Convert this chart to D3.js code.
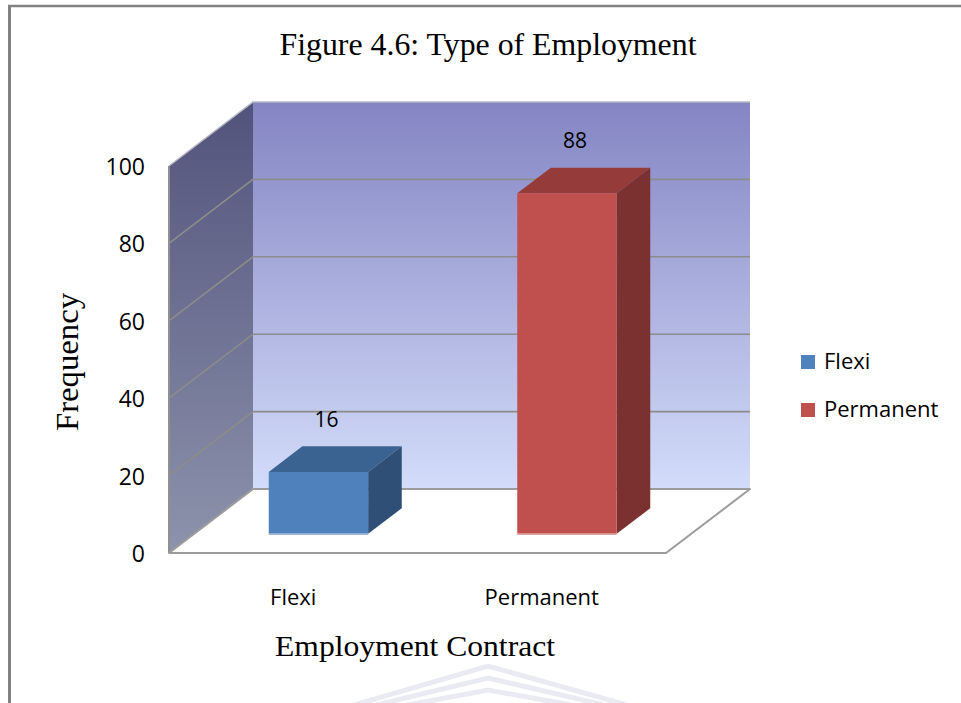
<!DOCTYPE html>
<html>
<head>
<meta charset="utf-8">
<script src="https://cdn.jsdelivr.net/npm/d3@7/dist/d3.min.js"></script>
<style>
  html, body { margin: 0; padding: 0; background: #fff; }
  svg { display: block; }
</style>
</head>
<body>
<svg id="chart" width="961" height="703"></svg>
<script>
// ---- data ----
const categories = ["Flexi", "Permanent"];
const seriesNames = ["Flexi", "Permanent"];
const frequency = [16, 88];
const yTicks = [0, 20, 40, 60, 80, 100];

const titleText = "Figure 4.6: Type of Employment";
const xTitleText = "Employment Contract";
const yTitleText = "Frequency";

// ---- styles ----
const faceColors = [
  { front: "#4f81bd", top: "#3b6391", side: "#2f4f77", edge: "#9fb9dc" },
  { front: "#c0504d", top: "#953c3a", side: "#7a3130", edge: "#e2a6a4" }
];

const svg = d3.select("#chart");
const W = 961, H = 703;

// Outer frame of the figure
svg.append("line").attr("x1", 9.5).attr("x2", 9.5).attr("y1", 5).attr("y2", H)
  .attr("stroke", "#828282").attr("stroke-width", 3);
svg.append("line").attr("x1", 8).attr("x2", W).attr("y1", 6).attr("y2", 6)
  .attr("stroke", "#828282").attr("stroke-width", 2.5);

// ---- 3D plot geometry ----
const frontLeft = 169, frontRight = 666;
const DX = 84, DY = 64;           // depth offset of the back plane
const zFront = 0.3, zBack = 0.7;  // depth range occupied by the bars

const x = d3.scaleBand().domain(categories).range([frontLeft, frontRight])
  .paddingInner(0.6).paddingOuter(0.3);
const xCat = d3.scaleBand().domain(categories).range([frontLeft, frontRight]);
const y = d3.scaleLinear().domain([0, 100]).range([553, 166]);

// project (front-plane x, value, depth) to screen
const P = (px, v, z) => [px + z * DX, y(v) - z * DY];
const poly = pts => "M" + pts.map(p => p.join(",")).join("L") + "Z";
const line = pts => "M" + pts.map(p => p.join(",")).join("L");

const defs = svg.append("defs");
const gBack = defs.append("linearGradient").attr("id", "backWall")
  .attr("x1", 0).attr("y1", 0).attr("x2", 0).attr("y2", 1);
gBack.append("stop").attr("offset", "0%").attr("stop-color", "#8485c3");
gBack.append("stop").attr("offset", "100%").attr("stop-color", "#d3dcfa");
const gSide = defs.append("linearGradient").attr("id", "sideWall")
  .attr("x1", 0).attr("y1", 0).attr("x2", 0).attr("y2", 1);
gSide.append("stop").attr("offset", "0%").attr("stop-color", "#52537c");
gSide.append("stop").attr("offset", "100%").attr("stop-color", "#8d93ac");

const plot = svg.append("g");

// back wall
plot.append("path")
  .attr("d", poly([P(frontLeft, 0, 1), P(frontRight, 0, 1), P(frontRight, 100, 1), P(frontLeft, 100, 1)]))
  .attr("fill", "url(#backWall)");
// side wall
plot.append("path")
  .attr("d", poly([P(frontLeft, 0, 0), P(frontLeft, 0, 1), P(frontLeft, 100, 1), P(frontLeft, 100, 0)]))
  .attr("fill", "url(#sideWall)");

// gridlines on back and side walls
const grid = plot.append("g").attr("stroke", "#8c8c8c").attr("stroke-width", 1.6).attr("fill", "none");
yTicks.filter(t => t > 0 && t < 100).forEach(t => {
  grid.append("path").attr("d", line([P(frontLeft, t, 0), P(frontLeft, t, 1), P(frontRight, t, 1)]));
});
// top edges of walls
plot.append("path")
  .attr("d", line([P(frontLeft, 100, 0), P(frontLeft, 100, 1), P(frontRight, 100, 1)]))
  .attr("fill", "none").attr("stroke", "#b8b8c4").attr("stroke-width", 1.5);
// left edge of side wall
plot.append("line")
  .attr("x1", frontLeft).attr("x2", frontLeft).attr("y1", y(100)).attr("y2", y(0))
  .attr("stroke", "#909090").attr("stroke-width", 2);

// floor
plot.append("path")
  .attr("d", poly([P(frontLeft, 0, 0), P(frontRight, 0, 0), P(frontRight, 0, 1), P(frontLeft, 0, 1)]))
  .attr("fill", "#ffffff").attr("stroke", "#9c9c9c").attr("stroke-width", 2).attr("stroke-linejoin", "round");

// bars
const axisFont = "'Open Sans', 'Noto Sans', sans-serif";
const bars = plot.selectAll("g.bar").data(categories).join("g").attr("class", "bar");
bars.each(function (c, i) {
  const g = d3.select(this);
  const v = frequency[i];
  const x0 = x(c), x1 = x(c) + x.bandwidth();
  const col = faceColors[i];
  g.append("path").attr("d", poly([P(x0, v, zFront), P(x1, v, zFront), P(x1, v, zBack), P(x0, v, zBack)]))
    .attr("fill", col.top);
  g.append("path").attr("d", poly([P(x1, 0, zFront), P(x1, 0, zBack), P(x1, v, zBack), P(x1, v, zFront)]))
    .attr("fill", col.side);
  g.append("path").attr("d", poly([P(x0, 0, zFront), P(x1, 0, zFront), P(x1, v, zFront), P(x0, v, zFront)]))
    .attr("fill", col.front);
  const b0 = P(x0, 0, zFront), b1 = P(x1, 0, zFront);
  g.append("line").attr("x1", b0[0]).attr("x2", b1[0]).attr("y1", b0[1] + 0.5).attr("y2", b1[1] + 0.5)
    .attr("stroke", col.edge).attr("stroke-width", 1.5);
  // data label
  const lp = P(x0 + x.bandwidth() / 2, v, zFront);
  g.append("text")
    .attr("x", lp[0] + 8).attr("y", lp[1] - 45)
    .attr("text-anchor", "middle")
    .attr("font-family", axisFont)
    .attr("font-size", 21).attr("fill", "#000")
    .text(v);
});

// value axis labels
svg.append("g").selectAll("text").data(yTicks).join("text")
  .attr("x", 145).attr("y", d => y(d) + 9)
  .attr("text-anchor", "end")
  .attr("font-family", axisFont).attr("font-size", 23).attr("fill", "#000")
  .text(d => d);

// category labels
svg.append("g").selectAll("text").data(categories).join("text")
  .attr("x", d => xCat(d) + xCat.bandwidth() / 2)
  .attr("y", 605)
  .attr("text-anchor", "middle")
  .attr("font-family", axisFont).attr("font-size", 22).attr("fill", "#000")
  .text(d => d);

// titles
const serif = "'Liberation Serif', 'Times New Roman', serif";
svg.append("text").attr("x", 488).attr("y", 55).attr("text-anchor", "middle")
  .attr("font-family", serif).attr("font-size", 31)
  .attr("textLength", 417).attr("lengthAdjust", "spacingAndGlyphs")
  .text(titleText);
svg.append("text").attr("x", 415).attr("y", 656).attr("text-anchor", "middle")
  .attr("font-family", serif).attr("font-size", 30)
  .attr("textLength", 280).attr("lengthAdjust", "spacingAndGlyphs")
  .text(xTitleText);
svg.append("text").attr("transform", "translate(78,362) rotate(-90)")
  .attr("text-anchor", "middle")
  .attr("font-family", serif).attr("font-size", 31)
  .attr("textLength", 138).attr("lengthAdjust", "spacingAndGlyphs")
  .text(yTitleText);

// legend
const legend = svg.append("g").attr("transform", "translate(801,355)");
const li = legend.selectAll("g").data(seriesNames).join("g")
  .attr("transform", (d, i) => `translate(0,${i * 48})`);
li.append("rect").attr("width", 14).attr("height", 14)
  .attr("fill", (d, i) => faceColors[i].front);
li.append("text").attr("x", 23).attr("y", 14)
  .attr("font-family", axisFont).attr("font-size", 22).attr("fill", "#000")
  .text(d => d);

// faint emblem below the chart
const emblem = svg.append("g").attr("fill", "none").attr("stroke", "#eaebf2").attr("stroke-width", 5);
[0, 12, 24].forEach(o => {
  emblem.append("path").attr("d", `M${330 + o * 0.6},${712 + o * 0.2}L488,${666 + o}L${652 - o * 0.6},${712 + o * 0.2}`);
});
</script>
</body>
</html>
